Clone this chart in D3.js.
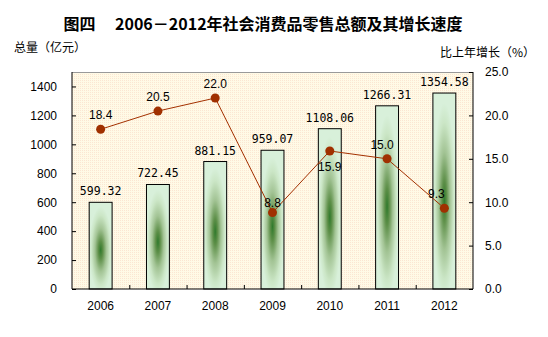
<!DOCTYPE html>
<html><head><meta charset="utf-8">
<script src="https://cdn.jsdelivr.net/npm/d3@7"></script>
<style>body{margin:0;background:#fff}svg{display:block}</style>
</head><body>
<script>
const years = ["2006","2007","2008","2009","2010","2011","2012"];
const totals = [599.32, 722.45, 881.15, 959.07, 1108.06, 1266.31, 1354.58];
const growth = [18.4, 20.5, 22.0, 8.8, 15.9, 15.0, 9.3];
const leftTicks = [0,200,400,600,800,1000,1200,1400];
const rightTicks = [0,5,10,15,20,25];
const totalLabels = ["599.32","722.45","881.15","959.07","1108.06","1266.31","1354.58"];
const growthLabels = ["18.4","20.5","22.0","8.8","15.9","15.0","9.3"];

const W=548,H=337;
const m={l:72,r:473,t:72,b:289};
const svg=d3.select("body").append("svg").attr("width",W).attr("height",H);
const defs=svg.append("defs");
const g=defs.append("radialGradient").attr("id","barg").attr("cx","0.5").attr("cy","0.55").attr("r","0.5");
[[0,"#2f7a2c"],[0.2,"#5d8f48"],[0.5,"#a3c495"],[0.8,"#cbe6c6"],[1,"#d8f0da"]].forEach(s=>g.append("stop").attr("offset",s[0]).attr("stop-color",s[1]));
const pat=defs.append("pattern").attr("id","bgp").attr("width",2).attr("height",2).attr("patternUnits","userSpaceOnUse");
pat.append("rect").attr("width",2).attr("height",2).attr("fill","#fffae6");
pat.append("rect").attr("width",1).attr("height",1).attr("fill","#fbe6d2");

const x=d3.scaleBand().domain(years).range([m.l,m.r]).paddingInner(0).paddingOuter(0);
const yL=d3.scaleLinear().domain([0,1500]).range([m.b,m.t]);
const yR=d3.scaleLinear().domain([0,25]).range([m.b,m.t]);

svg.append("rect").attr("x",m.l).attr("y",m.t).attr("width",m.r-m.l).attr("height",m.b-m.t).attr("fill","url(#bgp)");
svg.append("line").attr("x1",m.l).attr("x2",m.r).attr("y1",m.t+0.5).attr("y2",m.t+0.5).attr("stroke","#999");

// title
svg.append("text").attr("x",263).attr("y",30).attr("text-anchor","middle")
 .attr("font-family","'Noto Sans CJK SC'").attr("font-weight","bold").attr("font-size","16px")
 .attr("xml:space","preserve").text("图四　 2006－2012年社会消费品零售总额及其增长速度");
svg.append("text").attr("x",14).attr("y",52).attr("font-family","'Noto Sans CJK SC'").attr("font-size","12px").text("总量（亿元）");
svg.append("text").attr("x",535).attr("y",57).attr("text-anchor","end").attr("font-family","'Noto Sans CJK SC'").attr("font-size","12px").text("比上年增长（%）");

// bars
const bw=x.bandwidth()*0.4;
svg.selectAll("rect.bar").data(years).enter().append("rect").attr("class","bar")
 .attr("x",d=>x(d)+x.bandwidth()/2-bw/2).attr("y",(d,i)=>yL(totals[i]))
 .attr("width",bw).attr("height",(d,i)=>m.b-yL(totals[i]))
 .attr("fill","url(#barg)").attr("stroke","#000").attr("stroke-width",1);
svg.selectAll("text.tl").data(years).enter().append("text")
 .attr("x",d=>x(d)+x.bandwidth()/2).attr("y",(d,i)=>yL(totals[i])-7)
 .attr("text-anchor","middle").attr("font-family","'DejaVu Sans Mono'").attr("font-size","11.5px")
 .text((d,i)=>totalLabels[i]);

// axes
const fontAx="'Liberation Sans', Arial";
const axL=svg.append("g").attr("transform",`translate(${m.l},0)`).call(d3.axisLeft(yL).tickValues(leftTicks).tickSize(-4).tickPadding(15).tickFormat(d3.format("d")));
const axR=svg.append("g").attr("transform",`translate(${m.r},0)`).call(d3.axisRight(yR).tickValues(rightTicks).tickSize(-4).tickPadding(12).tickFormat(d3.format(".1f")));
const axB=svg.append("g").attr("transform",`translate(0,${m.b})`).call(d3.axisBottom(x).tickSize(0).tickPadding(12));
[axL,axR,axB].forEach(a=>{a.select(".domain").attr("stroke","#000");a.selectAll("line").attr("stroke","#000");a.selectAll("text").attr("font-family",fontAx).attr("font-size","12px").attr("fill","#000");});
axL.select(".domain").attr("d",`M0,${m.b}V${m.t}`);
axR.select(".domain").attr("d",`M0,${m.b}V${m.t}`);
axB.select(".domain").attr("d",`M${m.l},0H${m.r}`);
// category separator ticks
svg.selectAll("line.sep").data(years.slice(1)).enter().append("line")
 .attr("x1",d=>x(d)+0.5).attr("x2",d=>x(d)+0.5).attr("y1",m.b).attr("y2",m.b-4).attr("stroke","#000");

// growth line
const line=d3.line().x((d,i)=>x(years[i])+x.bandwidth()/2).y(d=>yR(d));
svg.append("path").datum(growth).attr("d",line).attr("fill","none").attr("stroke","#a33000").attr("stroke-width",1);
svg.selectAll("circle.pt").data(growth).enter().append("circle")
 .attr("cx",(d,i)=>x(years[i])+x.bandwidth()/2).attr("cy",d=>yR(d)).attr("r",4.5).attr("fill","#a03000");
const off=[[0,-14],[0,-14],[0,-14],[0,-10],[0,16],[-5,-14],[-8,-14]];
svg.selectAll("text.gl").data(growth).enter().append("text")
 .attr("x",(d,i)=>x(years[i])+x.bandwidth()/2+off[i][0]).attr("y",(d,i)=>yR(d)+off[i][1]+4)
 .attr("text-anchor","middle").attr("font-family",fontAx).attr("font-size","12px")
 .text((d,i)=>growthLabels[i]);
</script>
</body></html>
